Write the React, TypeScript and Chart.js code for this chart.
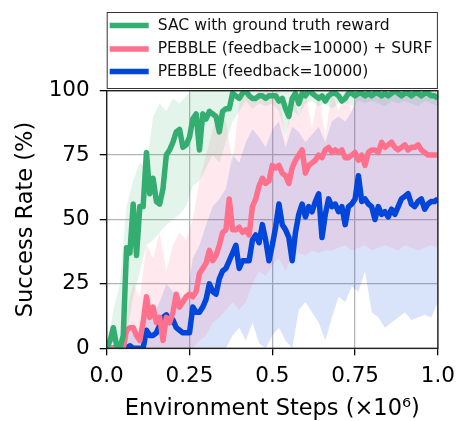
import { useEffect, useRef } from 'react';
import { Chart, registerables } from 'chart.js';

Chart.register(...registerables);

// Environment steps (x10^6) at which the mean curves are sampled
const lineSteps = [
  0, 0.01, 0.02, 0.03, 0.04, 0.05, 0.06, 0.07, 0.08, 0.09,
  0.1, 0.11, 0.12, 0.13, 0.14, 0.15, 0.16, 0.17, 0.18, 0.19,
  0.2, 0.21, 0.22, 0.23, 0.24, 0.25, 0.26, 0.27, 0.28, 0.29,
  0.3, 0.31, 0.32, 0.33, 0.34, 0.35, 0.36, 0.37, 0.38, 0.39,
  0.4, 0.41, 0.42, 0.43, 0.44, 0.45, 0.46, 0.47, 0.48, 0.49,
  0.5, 0.51, 0.52, 0.53, 0.54, 0.55, 0.56, 0.57, 0.58, 0.59,
  0.6, 0.61, 0.62, 0.63, 0.64, 0.65, 0.66, 0.67, 0.68, 0.69,
  0.7, 0.71, 0.72, 0.73, 0.74, 0.75, 0.76, 0.77, 0.78, 0.79,
  0.8, 0.81, 0.82, 0.83, 0.84, 0.85, 0.86, 0.87, 0.88, 0.89,
  0.9, 0.91, 0.92, 0.93, 0.94, 0.95, 0.96, 0.97, 0.98, 0.99,
  1.0,
];

// Mean success rate (%)
const sacMean = [
  0, 3, 8, 1, 0, 5, 39, 37, 56, 36,
  55, 55, 76, 60, 66, 57, 56, 62, 75, 77,
  80, 84, 85, 78, 79, 82, 89, 91, 77, 91,
  89, 92, 91, 90, 84, 92, 93, 93, 99, 98,
  97, 99, 100, 98, 97, 97, 98, 98, 97, 98,
  98, 98, 96, 97, 93, 90, 97, 99, 95, 99,
  98, 100, 99, 98, 97, 98, 96, 98, 99, 99,
  98, 96, 97, 99, 99, 98, 99, 99, 98, 99,
  98, 99, 99, 98, 99, 98, 99, 100, 99, 98,
  99, 99, 98, 99, 99, 98, 99, 99, 98, 98,
  97,
];

const surfMean = [
  0, 0, 0, 0, 0, 0, 7, 8, 8, 5,
  3, 10, 20, 12, 16, 10, 12, 3, 12, 10,
  14, 21, 16, 18, 20, 21, 20, 22, 29, 31,
  33, 38, 34, 36, 40, 45, 46, 58, 46, 46,
  47, 45, 46, 44, 55, 58, 63, 66, 64, 65,
  71, 70, 71, 68, 67, 64, 70, 73, 75, 77,
  68, 71, 72, 73, 75, 74, 77, 78, 76, 77,
  76, 77, 74, 74, 75, 76, 73, 75, 71, 76,
  77, 77, 76, 80, 78, 79, 80, 78, 77, 78,
  79, 77, 78, 78, 79, 77, 76, 75, 75, 75,
  75,
];

const pebbleMean = [
  0, 0, 0, 0, 0, 0, 0, 1, 0, 0,
  0, 0, 7, 5, 5, 6, 9, 12, 13, 10,
  11, 8, 7, 6, 6, 6, 16, 14, 14, 16,
  19, 25, 22, 21, 27, 30, 31, 34, 37, 40,
  31, 34, 34, 34, 42, 44, 41, 48, 42, 34,
  40, 47, 56, 48, 46, 43, 34, 45, 52, 56,
  51, 55, 53, 57, 60, 43, 52, 58, 55, 56,
  53, 55, 48, 55, 56, 58, 67, 57, 58, 56,
  55, 50, 55, 52, 53, 51, 54, 52, 55, 58,
  59, 60, 56, 55, 57, 58, 54, 56, 57, 57,
  58,
];

// Steps at which the shaded ranges are sampled
const bandSteps = [
  0, 0.02, 0.04, 0.06, 0.08, 0.1, 0.12, 0.14, 0.16, 0.18,
  0.2, 0.22, 0.24, 0.26, 0.28, 0.3, 0.32, 0.34, 0.36, 0.38,
  0.4, 0.42, 0.44, 0.46, 0.48, 0.5, 0.52, 0.54, 0.56, 0.58,
  0.6, 0.62, 0.64, 0.66, 0.68, 0.7, 0.72, 0.74, 0.76, 0.78,
  0.8, 0.82, 0.84, 0.86, 0.88, 0.9, 0.92, 0.94, 0.96, 0.98,
  1.0,
];

const sacLow = [
  0, 0, 0, 5, 20, 30, 40, 42, 45, 48,
  50, 52, 55, 63, 65, 70, 75, 72, 80, 88,
  92, 96, 93, 95, 94, 95, 92, 82, 93, 90,
  95, 96, 94, 95, 93, 95, 96, 94, 96, 95,
  96, 95, 94, 96, 95, 96, 95, 94, 96, 95,
  94,
];
const sacHigh = [
  0, 15, 25, 55, 65, 72, 70, 90, 95, 92,
  97, 95, 98, 100, 100, 100, 100, 100, 100, 100,
  100, 100, 100, 100, 100, 100, 100, 100, 100, 100,
  100, 100, 100, 100, 100, 100, 100, 100, 100, 100,
  100, 100, 100, 100, 100, 100, 100, 100, 100, 100,
  100,
];

const surfLow = [
  0, 0, 0, 0, 0, 0, 0, 0, 0, 0,
  0, 0, 0, 0, 3, 5, 10, 12, 15, 18,
  15, 18, 25, 30, 28, 32, 35, 30, 36, 37,
  36, 38, 37, 38, 38, 39, 40, 38, 39, 40,
  38, 39, 40, 39, 38, 40, 39, 38, 39, 40,
  39,
];
const surfHigh = [
  0, 0, 0, 15, 25, 20, 40, 35, 45, 30,
  40, 45, 42, 50, 65, 75, 85, 92, 88, 72,
  95, 100, 96, 100, 100, 100, 100, 80, 100, 90,
  100, 85, 100, 82, 100, 92, 100, 92, 100, 100,
  100, 100, 100, 100, 100, 100, 100, 100, 100, 100,
  100,
];

const pebbleLow = [
  0, 0, 0, 0, 0, 0, 0, 0, 0, 0,
  0, 0, 0, 0, 0, 0, 0, 0, 0, 5,
  8, 3, 10, 2, 0, 5, 8, 3, 0, 15,
  18, 14, 10, 3, 12, 20, 18, 24, 22, 30,
  14, 12, 8, 10, 12, 14, 11, 12, 13, 12,
  18,
];
const pebbleHigh = [
  0, 0, 0, 3, 8, 5, 15, 12, 18, 25,
  22, 20, 18, 35, 40, 48, 55, 58, 62, 75,
  72, 80, 85, 82, 78, 85, 88, 78, 86, 84,
  80, 83, 86, 80, 88, 90, 88, 92, 100, 98,
  100, 100, 98, 100, 100, 99, 100, 100, 98, 100,
  98,
];

const xTickValues = [0, 0.25, 0.5, 0.75, 1];
const xTickLabels = ['0.0', '0.25', '0.5', '0.75', '1.0'];
const yTickValues = [0, 25, 50, 75, 100];

const legendLabels = [
  'SAC with ground truth reward',
  'PEBBLE (feedback=10000) + SURF',
  'PEBBLE (feedback=10000)',
];

const GREEN = 'rgb(52,174,112)';
const PINK = 'rgb(255,112,140)';
const BLUE = 'rgb(0,70,218)';
const legendColors = [GREEN, PINK, BLUE];

const FONT = '"DejaVu Sans", sans-serif';

const pts = (xs: number[], ys: number[]) => xs.map((x, i) => ({ x, y: ys[i] }));

const meanLine = (label: string, xs: number[], ys: number[], color: string) => ({
  label,
  data: pts(xs, ys),
  borderColor: color,
  backgroundColor: color,
  borderWidth: 5.5,
  borderJoinStyle: 'round' as const,
  borderCapStyle: 'butt' as const,
  pointRadius: 0,
  fill: false,
  tension: 0,
  clip: 0,
});

const bandUpper = (xs: number[], ys: number[], fillColor: string) => ({
  label: '',
  data: pts(xs, ys),
  borderWidth: 0,
  borderColor: 'rgba(0,0,0,0)',
  backgroundColor: fillColor,
  pointRadius: 0,
  fill: '+1',
  tension: 0,
  clip: 0,
});

const bandLower = (xs: number[], ys: number[]) => ({
  label: '',
  data: pts(xs, ys),
  borderWidth: 0,
  borderColor: 'rgba(0,0,0,0)',
  pointRadius: 0,
  fill: false,
  tension: 0,
  clip: 0,
});

// Box around the plotting area
const framePlugin = {
  id: 'frame',
  afterDatasetsDraw(chart: any) {
    const { ctx, chartArea: a } = chart;
    ctx.save();
    ctx.strokeStyle = '#1a1a1a';
    ctx.lineWidth = 1.3;
    ctx.strokeRect(a.left, a.top, a.right - a.left, a.bottom - a.top);
    ctx.restore();
  },
};

// Framed legend above the axes
const boxLegendPlugin = {
  id: 'boxLegend',
  afterDraw(chart: any) {
    const { ctx, chartArea: a } = chart;
    const top = 12;
    const bottom = 88;
    const rows = [25.5, 49, 71.5];
    ctx.save();
    ctx.fillStyle = '#ffffff';
    ctx.fillRect(a.left, top, a.right - a.left, bottom - top);
    ctx.strokeStyle = '#333333';
    ctx.lineWidth = 1;
    ctx.strokeRect(a.left + 0.5, top + 0.5, a.right - a.left - 1, bottom - top);
    ctx.font = `15.6px ${FONT}`;
    ctx.textBaseline = 'middle';
    ctx.textAlign = 'left';
    legendLabels.forEach((text, i) => {
      ctx.strokeStyle = legendColors[i];
      ctx.lineWidth = 5.5;
      ctx.beginPath();
      ctx.moveTo(a.left + 3, rows[i]);
      ctx.lineTo(a.left + 42, rows[i]);
      ctx.stroke();
      ctx.fillStyle = '#111111';
      ctx.fillText(text, a.left + 51, rows[i]);
    });
    ctx.restore();
  },
};

export default function App() {
  const canvasRef = useRef<HTMLCanvasElement | null>(null);

  useEffect(() => {
    const canvas = canvasRef.current;
    if (!canvas) return;
    const chart = new Chart(canvas, {
      type: 'line',
      data: {
        datasets: [
          meanLine(legendLabels[0], lineSteps, sacMean, GREEN),
          meanLine(legendLabels[1], lineSteps, surfMean, PINK),
          meanLine(legendLabels[2], lineSteps, pebbleMean, BLUE),
          bandUpper(bandSteps, sacHigh, 'rgba(60,179,113,0.14)'),
          bandLower(bandSteps, sacLow),
          bandUpper(bandSteps, surfHigh, 'rgba(255,110,140,0.15)'),
          bandLower(bandSteps, surfLow),
          bandUpper(bandSteps, pebbleHigh, 'rgba(0,70,220,0.15)'),
          bandLower(bandSteps, pebbleLow),
        ] as any,
      },
      options: {
        responsive: false,
        animation: false,
        devicePixelRatio: 1,
        layout: { padding: { top: 90.7, left: 0, right: 20.5, bottom: 0 } },
        plugins: {
          legend: { display: false },
          tooltip: { enabled: false },
        },
        scales: {
          x: {
            type: 'linear',
            min: 0,
            max: 1,
            afterFit: (scale: any) => {
              scale.height = 72.7;
            },
            afterBuildTicks: (scale: any) => {
              scale.ticks = xTickValues.map((v) => ({ value: v }));
            },
            ticks: {
              autoSkip: false,
              maxRotation: 0,
              padding: 8,
              color: '#000',
              font: { family: FONT, size: 21.5 },
              callback: (v: any) => xTickLabels[xTickValues.indexOf(Number(v))] ?? '',
            },
            grid: {
              color: '#b4b4b4',
              lineWidth: 1.3,
              tickLength: 7,
              tickColor: '#000',
              tickWidth: 1.3,
            },
            border: { display: false },
            title: {
              display: true,
              text: 'Environment Steps (×10⁶)',
              color: '#000',
              font: { family: FONT, size: 22.5, lineHeight: 1 },
              padding: { top: 0, bottom: 1 },
            },
          },
          y: {
            type: 'linear',
            min: 0,
            max: 100,
            afterFit: (scale: any) => {
              scale.width = 106.7;
            },
            afterBuildTicks: (scale: any) => {
              scale.ticks = yTickValues.map((v) => ({ value: v }));
            },
            ticks: {
              autoSkip: false,
              padding: 10,
              color: '#000',
              font: { family: FONT, size: 21.5 },
              callback: (v: any) => String(v),
            },
            grid: {
              color: '#b4b4b4',
              lineWidth: 1.3,
              tickLength: 7,
              tickColor: '#000',
              tickWidth: 1.3,
            },
            border: { display: false },
            title: {
              display: true,
              text: 'Success Rate (%)',
              color: '#000',
              font: { family: FONT, size: 22.5, lineHeight: 1 },
              padding: { top: 15, bottom: 0 },
            },
          },
        },
      },
      plugins: [framePlugin, boxLegendPlugin],
    });
    return () => chart.destroy();
  }, []);

  return (
    <div style={{ position: 'absolute', left: 0, top: 0, width: 463, height: 421 }}>
      <canvas
        ref={canvasRef}
        width={463}
        height={421}
        style={{ display: 'block', width: 463, height: 421 }}
      />
    </div>
  );
}
